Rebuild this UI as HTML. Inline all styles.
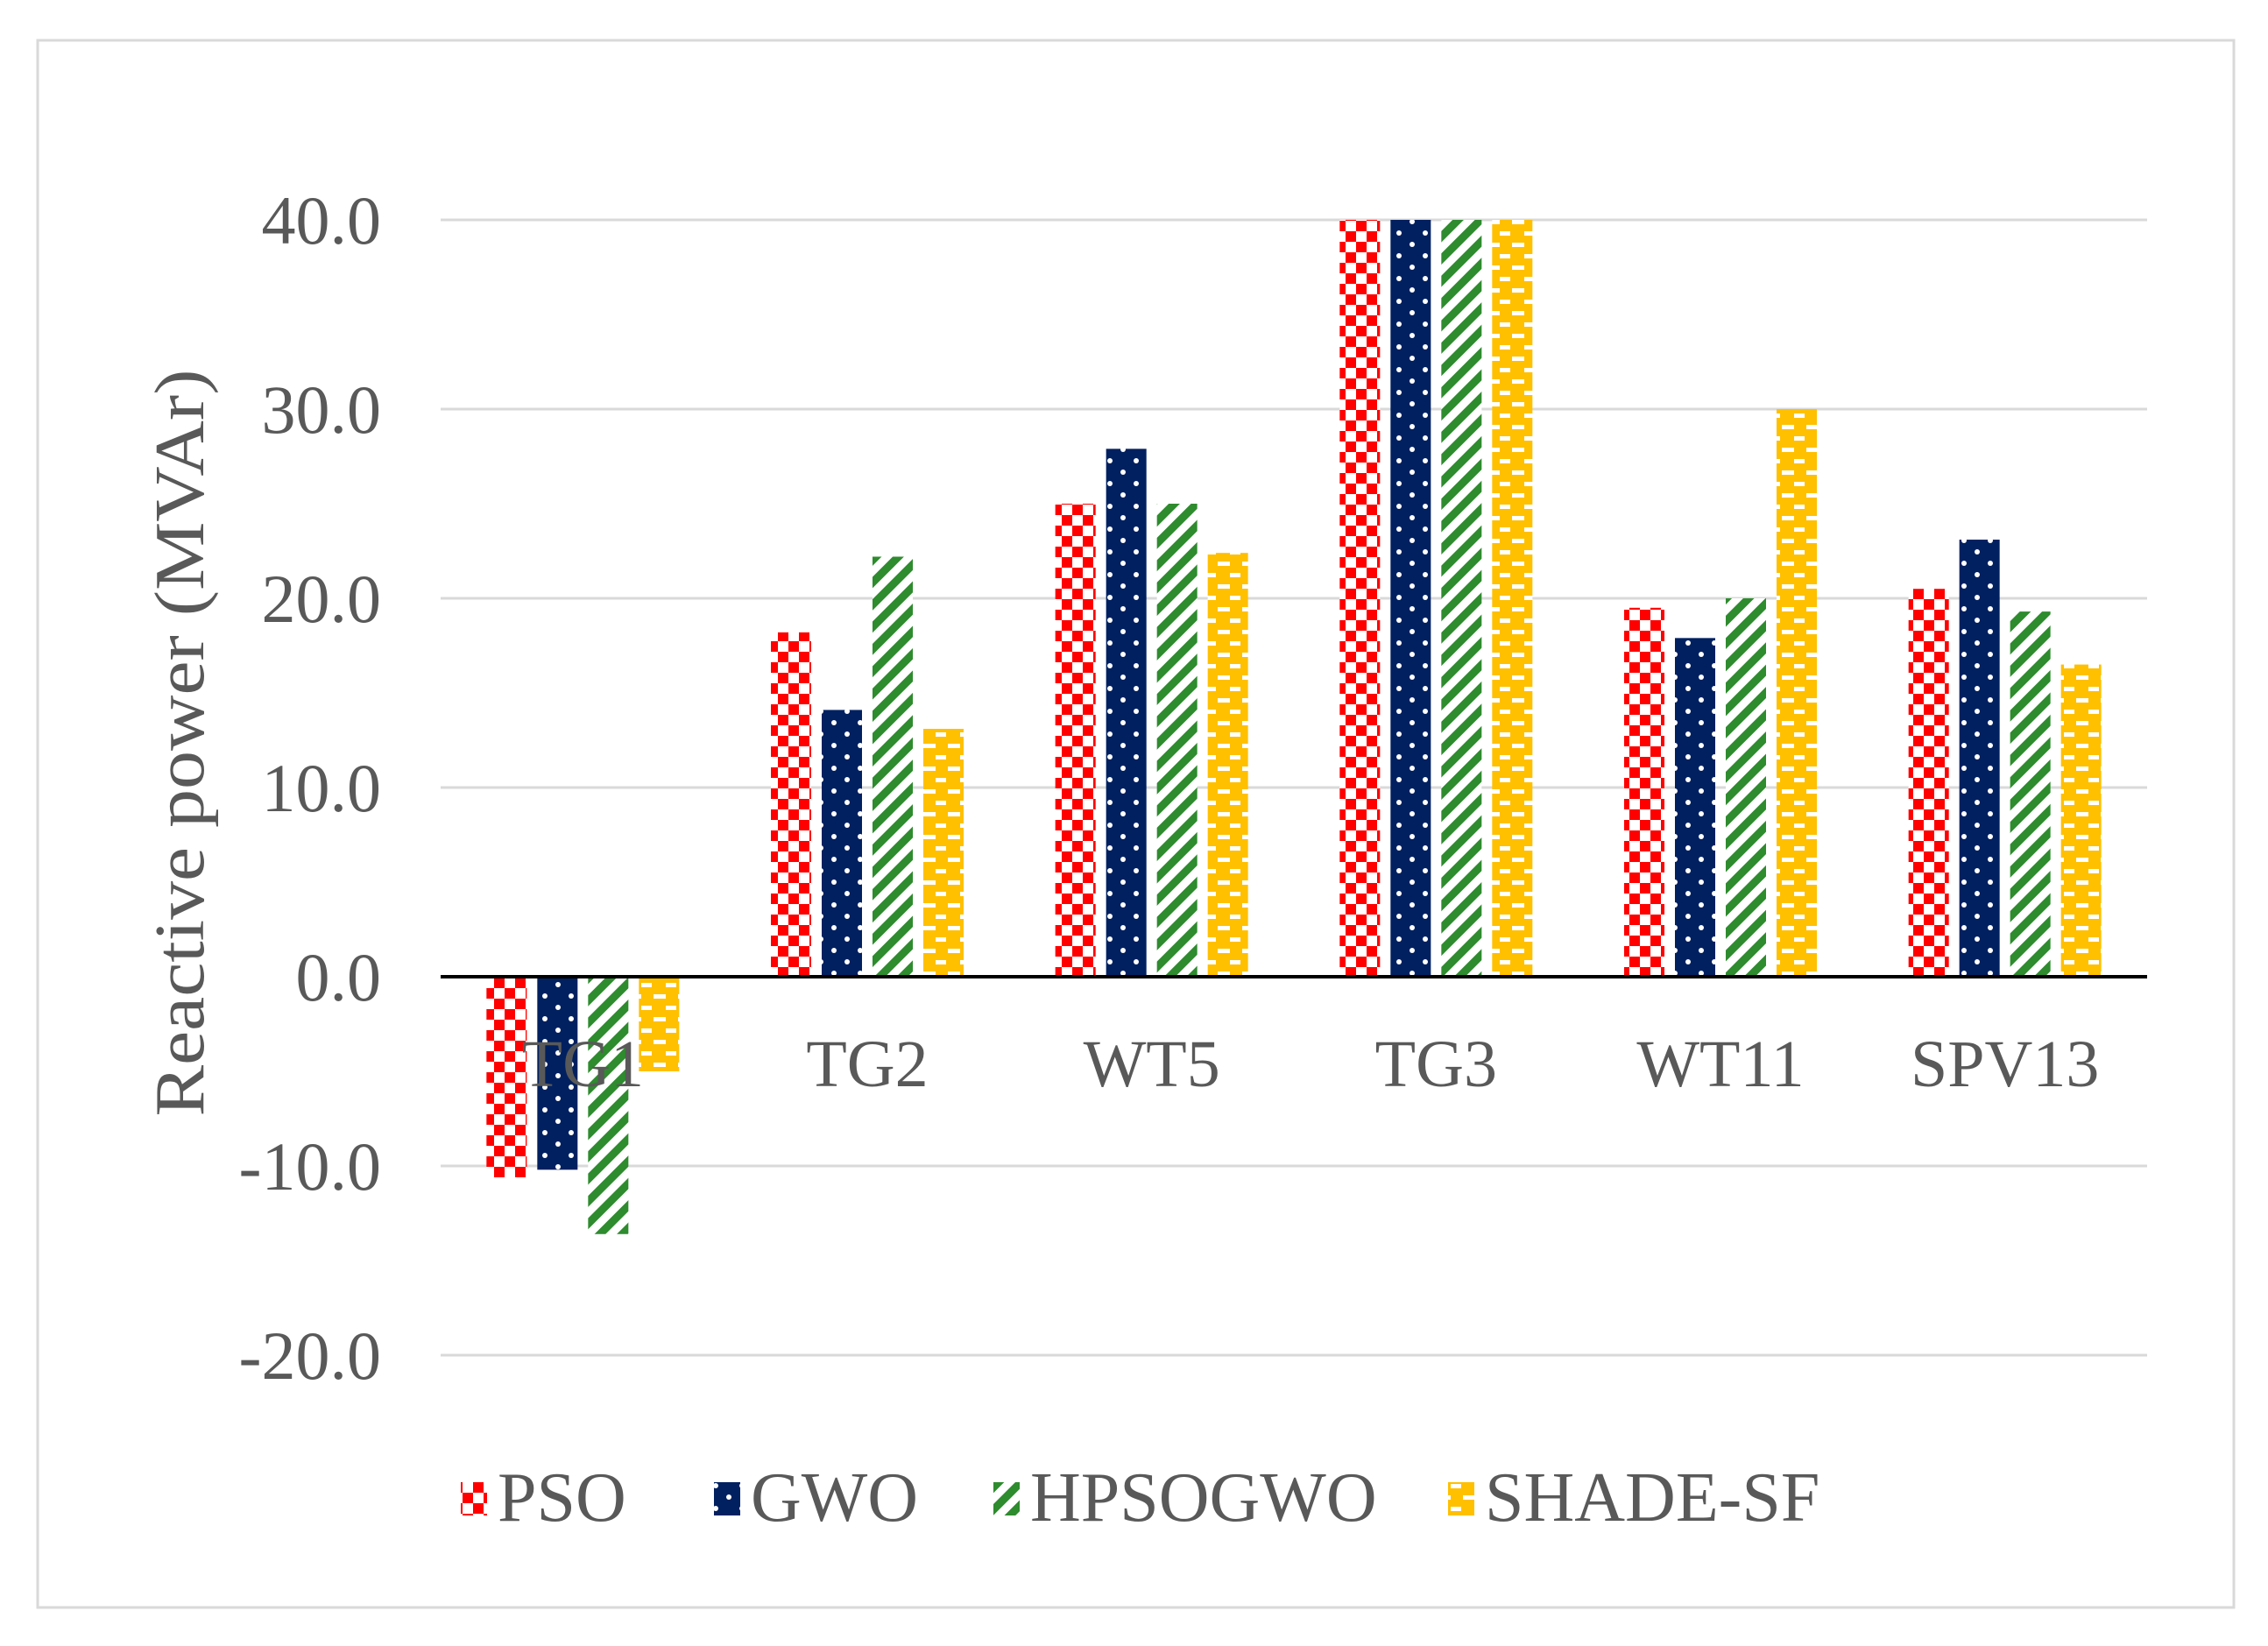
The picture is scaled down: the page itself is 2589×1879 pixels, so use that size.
<!DOCTYPE html>
<html><head><meta charset="utf-8"><style>
html,body{margin:0;padding:0;background:#fff;}
svg{display:block;}
text{font-family:"Liberation Serif",serif;fill:#595959;}
</style></head><body>
<svg id="chart" width="2589" height="1879" viewBox="0 0 2589 1879" xmlns="http://www.w3.org/2000/svg">
<defs>
<pattern id="pPSO" patternUnits="userSpaceOnUse" width="24" height="24">
<rect width="24" height="24" fill="#fff"/><rect width="12" height="12" fill="#ff0000"/><rect x="12" y="12" width="12" height="12" fill="#ff0000"/>
</pattern>
<pattern id="pGWO" patternUnits="userSpaceOnUse" width="30" height="26">
<rect width="30" height="26" fill="#002060"/><circle cx="7" cy="6" r="3" fill="#fff"/><circle cx="22" cy="19" r="3" fill="#fff"/>
</pattern>
<pattern id="pHPS" patternUnits="userSpaceOnUse" width="18" height="18" patternTransform="rotate(-45)">
<rect width="18" height="18" fill="#fff"/><rect width="18" height="9" fill="#2e8b2e"/>
</pattern>
<pattern id="pSHA" patternUnits="userSpaceOnUse" width="28" height="26">
<rect width="28" height="26" fill="#ffc000"/><rect x="4" y="4" width="12" height="5" fill="#fff"/><rect x="18" y="17" width="10" height="5" fill="#fff"/><rect x="0" y="17" width="4" height="5" fill="#fff"/>
</pattern>
</defs>
<rect x="43" y="46" width="2507" height="1789" fill="#fff" stroke="#d9d9d9" stroke-width="3"/>
<g id="grid"></g>
<g id="bars"></g>
<g id="labels"></g>
<text transform="translate(232,848) rotate(-90)" text-anchor="middle" font-size="80" textLength="853" lengthAdjust="spacingAndGlyphs">Reactive power (MVAr)</text>
<g id="legend"></g>
</svg>
<script>
const categories = ["TG1","TG2","WT5","TG3","WT11","SPV13"];
const seriesNames = ["PSO","GWO","HPSOGWO","SHADE-SF"];
const psoValues = [-10.6,18.2,25.0,40.0,19.5,20.5];
const gwoValues = [-10.2,14.1,27.9,40.0,17.9,23.1];
const hpsogwoValues = [-13.6,22.2,25.0,40.0,20.0,19.3];
const shadeValues = [-5.0,13.1,22.4,40.0,30.0,16.5];
const yTicks = [40,30,20,10,0,-10,-20];
const yTickLabels = ["40.0","30.0","20.0","10.0","0.0","-10.0","-20.0"];

const NS="http://www.w3.org/2000/svg";
const fills=["url(#pPSO)","url(#pGWO)","url(#pHPS)","url(#pSHA)"];
const allSeries=[psoValues,gwoValues,hpsogwoValues,shadeValues];
const x0=503,x1=2451,zeroY=1115,unit=21.6;
const yScale=v=>zeroY-v*unit;
const catW=(x1-x0)/categories.length;
const xCenter=i=>x0+catW*(i+0.5);
const barW=46,step=58;

const grid=document.getElementById('grid');
yTicks.forEach((t,i)=>{
  if(t!==0){
    const l=document.createElementNS(NS,'line');
    
    
    l.setAttribute('x1',x0);l.setAttribute('x2',x1);
    l.setAttribute('y1',yScale(t));l.setAttribute('y2',yScale(t));
    l.setAttribute('stroke','#d9d9d9');l.setAttribute('stroke-width','3');
    grid.appendChild(l);
  }
  const tx=document.createElementNS(NS,'text');
  
  
  tx.setAttribute('x',435);tx.setAttribute('y',yScale(t)+27);
  tx.setAttribute('text-anchor','end');tx.setAttribute('font-size','78');
  tx.textContent=yTickLabels[i];
  grid.appendChild(tx);
});

const bars=document.getElementById('bars');
allSeries.forEach((vals,s)=>{
  vals.forEach((v,i)=>{
    const r=document.createElementNS(NS,'rect');
    
    
    const x=xCenter(i)-(1.5*step)-barW/2+s*step;
    const y=Math.min(yScale(v),zeroY);
    r.setAttribute('x',x);r.setAttribute('y',y);
    r.setAttribute('width',barW);r.setAttribute('height',Math.abs(yScale(v)-zeroY));
    r.setAttribute('fill',fills[s]);
    bars.appendChild(r);
  });
});
const ax=document.createElementNS(NS,'line');


ax.setAttribute('x1',x0);ax.setAttribute('x2',x1);ax.setAttribute('y1',zeroY);ax.setAttribute('y2',zeroY);
ax.setAttribute('stroke','#000');ax.setAttribute('stroke-width','4');
bars.appendChild(ax);

const labels=document.getElementById('labels');
categories.forEach((c,i)=>{
  const tx=document.createElementNS(NS,'text');
  
  
  tx.setAttribute('x',xCenter(i));tx.setAttribute('y',1240);
  tx.setAttribute('text-anchor','middle');tx.setAttribute('font-size','76');
  tx.textContent=c;
  labels.appendChild(tx);
});

const legend=document.getElementById('legend');
const legX=[526,815,1134,1653];
seriesNames.forEach((n,s)=>{
  const g=document.createElementNS(NS,'g');
  
  
  const r=document.createElementNS(NS,'rect');
  
  
  r.setAttribute('x',legX[s]);r.setAttribute('y',1692);r.setAttribute('width',30);r.setAttribute('height',38);
  r.setAttribute('fill',fills[s]);
  g.appendChild(r);
  const tx=document.createElementNS(NS,'text');
  
  
  tx.setAttribute('x',legX[s]+42);tx.setAttribute('y',1736);
  tx.setAttribute('font-size','80');
  tx.textContent=n;
  g.appendChild(tx);
  legend.appendChild(g);
});
</script>
</body></html>
